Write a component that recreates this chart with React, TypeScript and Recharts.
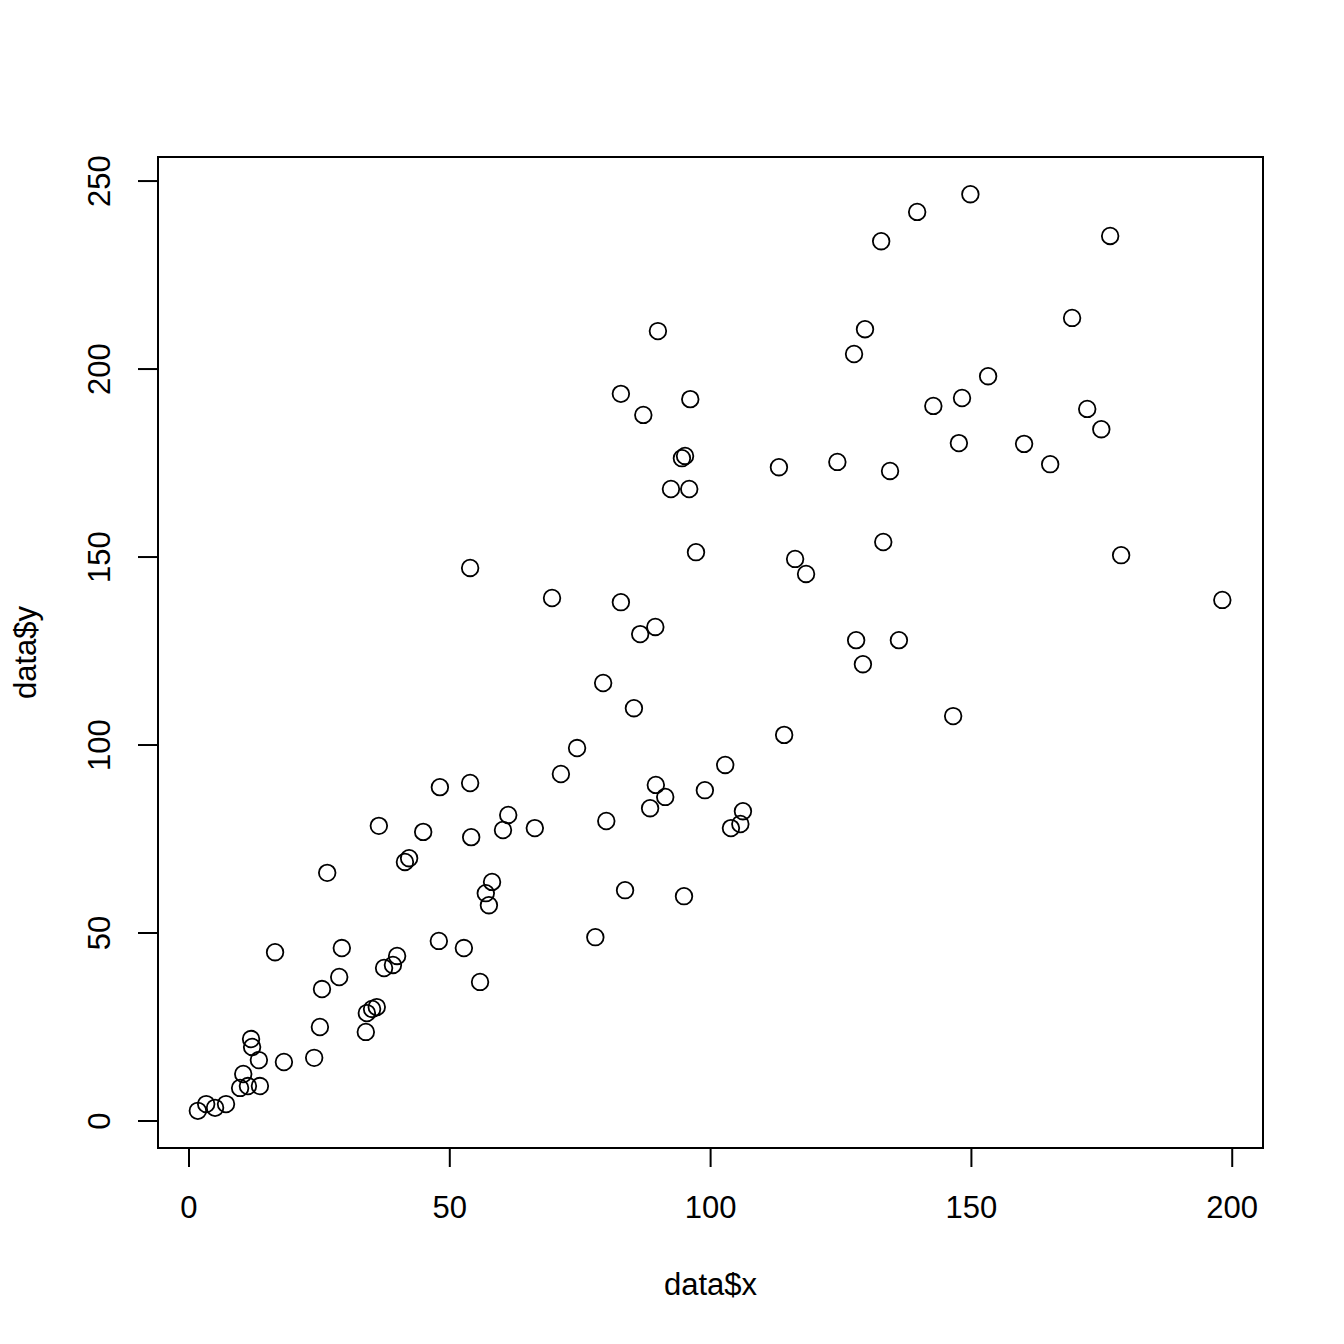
import { ReferenceArea, Scatter, ScatterChart, XAxis, YAxis } from "recharts";

// values
const xs = [
  1.7, 3.3, 5.0, 7.1, 9.8, 10.4, 11.3, 11.9, 12.1, 13.4,
  13.6, 16.5, 18.2, 24.0, 25.1, 25.5, 26.5, 28.8, 29.3, 33.9,
  34.1, 35.1, 36.0, 36.4, 37.4, 39.1, 39.9, 41.4, 42.2, 44.9,
  47.9, 48.1, 52.7, 53.9, 53.9, 54.1, 55.8, 56.9, 57.5, 58.1,
  60.2, 61.2, 66.3, 69.6, 71.3, 74.4, 77.9, 79.4, 80.0, 82.8,
  82.8, 83.6, 85.3, 86.5, 87.1, 88.4, 89.4, 89.5, 89.9, 91.3,
  92.4, 94.5, 95.1, 94.9, 95.9, 96.1, 97.2, 98.9, 102.8, 103.9,
  105.7, 106.2, 113.1, 114.1, 116.2, 118.3, 124.3, 127.5, 127.9, 129.2,
  129.6, 132.7, 133.1, 134.4, 136.1, 139.6, 142.7, 146.5, 147.6, 148.2,
  149.8, 153.2, 160.1, 165.1, 169.3, 172.2, 174.9, 176.6, 178.7, 198.1,
];
const ys = [
  2.7, 4.5, 3.5, 4.5, 8.8, 12.5, 9.3, 21.8, 19.7, 16.2,
  9.3, 44.9, 15.7, 16.8, 25.0, 35.1, 66.0, 38.3, 46.0, 23.7,
  28.7, 29.8, 30.3, 78.5, 40.7, 41.5, 43.9, 68.9, 69.9, 76.9,
  47.9, 88.8, 46.0, 147.1, 89.9, 75.5, 37.0, 60.6, 57.4, 63.6,
  77.4, 81.4, 77.9, 139.1, 92.3, 99.2, 48.9, 116.5, 79.8, 193.4,
  138.0, 61.4, 109.8, 129.5, 187.8, 83.2, 131.4, 89.4, 210.1, 86.2,
  168.1, 176.3, 176.9, 59.8, 168.1, 192.0, 151.3, 88.0, 94.7, 77.9,
  79.0, 82.4, 173.9, 102.7, 149.5, 145.5, 175.3, 204.0, 127.9, 121.5,
  210.6, 234.0, 154.0, 172.9, 127.9, 241.8, 190.2, 107.7, 180.3, 192.3,
  246.5, 198.1, 180.1, 174.7, 213.6, 189.4, 184.0, 235.4, 150.5, 138.6,
];
const xTicks = [0, 50, 100, 150, 200];
const yTicks = [0, 50, 100, 150, 200, 250];

const points = xs.map((x, i) => ({ x, y: ys[i] }));

const xDomain: [number, number] = [-5.94, 205.9];
const yDomain: [number, number] = [-7.18, 256.4];

const font = "'Liberation Sans', Arial, Helvetica, sans-serif";

const XTick = (props: any) => (
  <text x={props.x} y={props.y + 51} textAnchor="middle" fontSize={31} fontFamily={font} fill="#000">
    {props.payload.value}
  </text>
);

const YTick = (props: any) => {
  const tx = props.x - 28;
  return (
    <text x={tx} y={props.y} transform={`rotate(-90, ${tx}, ${props.y})`} textAnchor="middle" fontSize={31} fontFamily={font} fill="#000">
      {props.payload.value}
    </text>
  );
};

const Ring = (props: any) => (
  <circle cx={props.cx} cy={props.cy} r={8.3} fill="none" stroke="#000" strokeWidth={1.8} />
);

export default function App() {
  return (
    <div style={{ position: "absolute", left: 0, top: 0, background: "#fff" }}>
      <ScatterChart width={1344} height={1344} margin={{ top: 157, right: 81, bottom: 136, left: 98 }}>
        <XAxis
          dataKey="x"
          type="number"
          domain={xDomain}
          allowDataOverflow
          ticks={xTicks}
          axisLine={false}
          tickSize={19}
          tickMargin={0}
          tickLine={{ stroke: "#000", strokeWidth: 2 }}
          tick={XTick}
          height={60}
          label={{
            content: ({ viewBox }: any) => (
              <text x={viewBox.x + viewBox.width / 2} y={viewBox.y + 147} textAnchor="middle" fontSize={31} fontFamily={font} fill="#000">
                data$x
              </text>
            ),
          }}
        />
        <YAxis
          dataKey="y"
          type="number"
          domain={yDomain}
          allowDataOverflow
          ticks={yTicks}
          axisLine={false}
          tickSize={20}
          tickMargin={0}
          tickLine={{ stroke: "#000", strokeWidth: 2 }}
          tick={YTick}
          width={60}
          label={{
            content: ({ viewBox }: any) => {
              const cy = viewBox.y + viewBox.height / 2;
              return (
                <text x={36} y={cy} transform={`rotate(-90, 36, ${cy})`} textAnchor="middle" fontSize={31} fontFamily={font} fill="#000">
                  data$y
                </text>
              );
            },
          }}
        />
        <ReferenceArea x1={xDomain[0]} x2={xDomain[1]} y1={yDomain[0]} y2={yDomain[1]} fill="none" stroke="#000" strokeWidth={2} fillOpacity={0} ifOverflow="visible" />
        <Scatter data={points} shape={Ring} isAnimationActive={false} />
      </ScatterChart>
    </div>
  );
}
